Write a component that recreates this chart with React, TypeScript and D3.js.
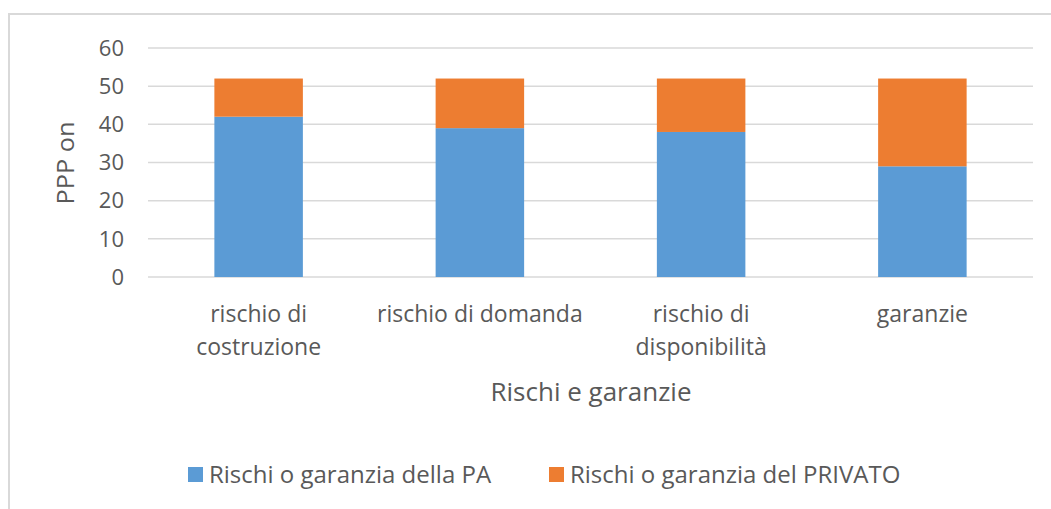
import React, { useEffect, useRef } from 'react';
import * as d3 from 'd3';

const categories = [
  ['rischio di', 'costruzione'],
  ['rischio di domanda'],
  ['rischio di', 'disponibilità'],
  ['garanzie'],
];
const paValues = [42, 39, 38, 29];
const privatoValues = [10, 13, 14, 23];
const seriesNames = ['Rischi o garanzia della PA', 'Rischi o garanzia del PRIVATO'];
const seriesColors = ['#5B9BD5', '#ED7D31'];
const yTicks = [0, 10, 20, 30, 40, 50, 60];

const W = 1051;
const H = 509;
const FONT = '"Open Sans", sans-serif';
const TEXT = '#595959';

const App = () => {
  const ref = useRef<SVGSVGElement>(null);

  useEffect(() => {
    const svg = d3.select(ref.current);
    svg.selectAll('*').remove();

    const left = 148, right = 1033, top = 48, bottom = 277;

    const x = d3.scaleBand<number>()
      .domain(categories.map((_, i) => i))
      .range([left, right])
      .paddingInner(0.6)
      .paddingOuter(0.3);

    const y = d3.scaleLinear().domain([0, 60]).range([bottom, top]);

    // chart border (only top and left visible in the crop)
    svg.append('path')
      .attr('d', `M9,${H} L9,14 L${W},14`)
      .attr('fill', 'none')
      .attr('stroke', '#D9D9D9')
      .attr('stroke-width', 2);

    // Gridlines
    svg.append('g')
      .selectAll('line')
      .data(yTicks)
      .enter()
      .append('line')
      .attr('x1', left)
      .attr('x2', right)
      .attr('y1', d => y(d))
      .attr('y2', d => y(d))
      .attr('stroke', '#D9D9D9')
      .attr('stroke-width', 1.5);

    // Y tick labels
    svg.append('g')
      .selectAll('text')
      .data(yTicks)
      .enter()
      .append('text')
      .attr('x', 124)
      .attr('y', d => y(d))
      .attr('dy', '0.35em')
      .attr('text-anchor', 'end')
      .style('font-family', FONT)
      .style('font-size', '22px')
      .style('fill', TEXT)
      .text(d => d);

    // Stacked bars
    const stackData = categories.map((_, i) => ({ idx: i, pa: paValues[i], privato: privatoValues[i] }));
    const stacked = d3.stack<any>().keys(['pa', 'privato'])(stackData);

    stacked.forEach((layer, si) => {
      svg.append('g')
        .selectAll('rect')
        .data(layer)
        .enter()
        .append('rect')
        .attr('x', d => x(d.data.idx)!)
        .attr('y', d => y(d[1]))
        .attr('width', x.bandwidth())
        .attr('height', d => y(d[0]) - y(d[1]))
        .attr('fill', seriesColors[si]);
    });

    // Category labels
    const cat = svg.append('g')
      .selectAll('text')
      .data(categories)
      .enter()
      .append('text')
      .attr('x', (_, i) => x(i)! + x.bandwidth() / 2)
      .attr('y', 322)
      .attr('text-anchor', 'middle')
      .style('font-family', FONT)
      .style('font-size', '23px')
      .style('fill', TEXT);
    cat.selectAll('tspan')
      .data(d => d)
      .enter()
      .append('tspan')
      .attr('x', function () { return (this.parentNode as SVGTextElement).getAttribute('x'); })
      .attr('dy', (_, j) => (j === 0 ? 0 : 33))
      .text(d => d);

    // Axis titles
    svg.append('text')
      .attr('x', 591)
      .attr('y', 392)
      .attr('dy', '0.35em')
      .attr('text-anchor', 'middle')
      .style('font-family', FONT)
      .style('font-size', '26px')
      .style('fill', TEXT)
      .text('Rischi e garanzie');

    svg.append('text')
      .attr('transform', 'translate(66,163) rotate(-90)')
      .attr('dy', '0.35em')
      .attr('text-anchor', 'middle')
      .attr('textLength', 83)
      .attr('lengthAdjust', 'spacingAndGlyphs')
      .style('font-family', FONT)
      .style('font-size', '24px')
      .style('fill', TEXT)
      .text('PPP on');

    // Legend
    const legendX = [188, 549];
    const lg = svg.append('g')
      .selectAll('g')
      .data(seriesNames)
      .enter()
      .append('g')
      .attr('transform', (_, i) => `translate(${legendX[i]},467)`);
    lg.append('rect')
      .attr('width', 15)
      .attr('height', 15)
      .attr('fill', (_, i) => seriesColors[i]);
    lg.append('text')
      .attr('x', 21)
      .attr('y', 8)
      .attr('dy', '0.35em')
      .style('font-family', FONT)
      .style('font-size', '24px')
      .style('fill', TEXT)
      .text(d => d);
  }, []);

  return (
    <svg
      ref={ref}
      width={W}
      height={H}
      style={{ position: 'absolute', left: 0, top: 0, background: '#fff' }}
    />
  );
};

export default App;
